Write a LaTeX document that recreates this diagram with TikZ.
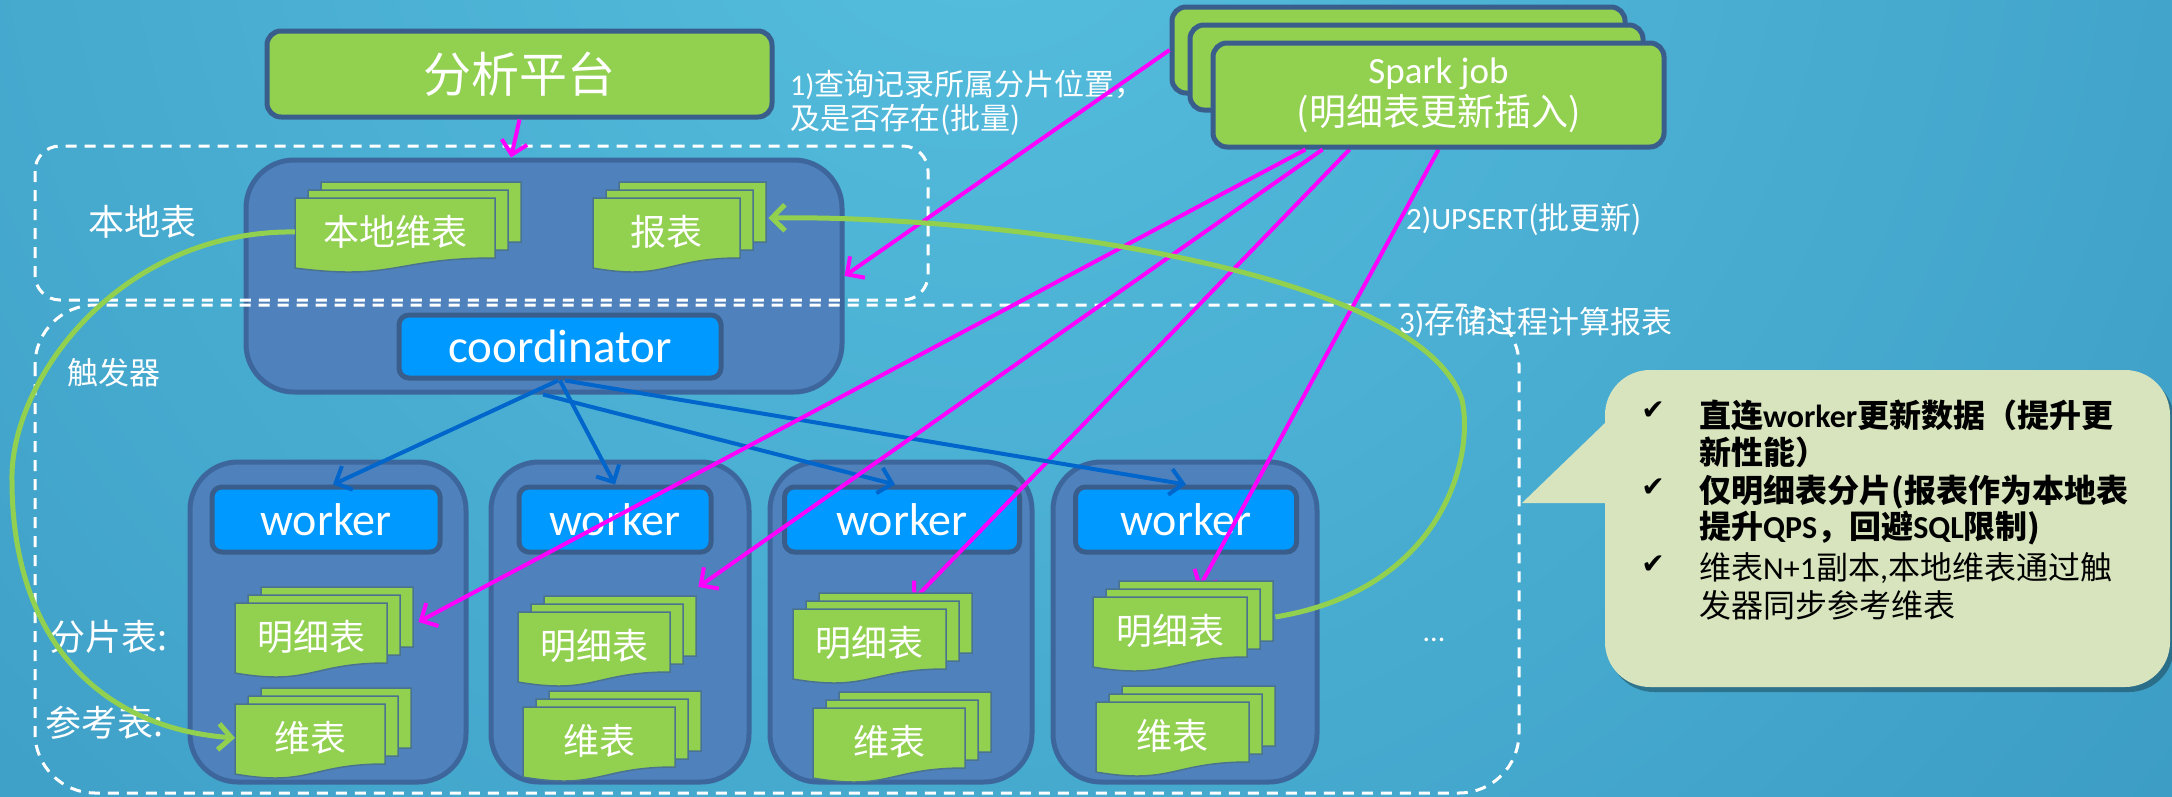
\documentclass[tikz,border=0pt]{standalone}
\usepackage{fontspec}
\setmainfont{Carlito}
\newfontfamily\cjk{Noto Sans CJK SC}
\newfontfamily\symfont{DejaVu Sans}
\usetikzlibrary{arrows.meta,calc}

\newcommand\zh[1]{{\cjk #1}}

\definecolor{leaf}{HTML}{92D050}
\definecolor{ink}{HTML}{3A5E8C}
\definecolor{slab}{HTML}{4F81BD}
\definecolor{slabline}{HTML}{3D679C}
\definecolor{chip}{HTML}{0099FF}
\definecolor{hotpink}{HTML}{FF00FF}
\definecolor{wirecol}{HTML}{0066CC}
\definecolor{notefill}{HTML}{D7E4BD}
\definecolor{sheetline}{HTML}{4A7390}
\definecolor{bgA}{HTML}{55BEDE}
\definecolor{bgB}{HTML}{3D9DC5}
\definecolor{bgC}{HTML}{2F88B0}
\definecolor{bgD}{HTML}{23749B}
\definecolor{bgE}{HTML}{1B628A}

\pgfdeclareradialshading{backdrop}{\pgfpoint{0bp}{0bp}}{%
  color(0bp)=(bgA); color(19bp)=(bgB); color(28bp)=(bgC);
  color(34bp)=(bgD); color(50bp)=(bgE)}

\pgfdeclarelayer{back}
\pgfdeclarelayer{under}
\pgfsetlayers{back,under,main}

\tikzset{
  greenbox/.style={draw=ink, line width=5pt, fill=leaf, rounded corners=14pt,
    text=white, inner sep=0pt},
  slabbox/.style={draw=slabline, line width=5pt, fill=slab, rounded corners=48pt,
    inner sep=0pt},
  chipbox/.style={draw=ink, line width=5pt, fill=chip, rounded corners=10pt,
    text=white, inner sep=0pt, font=\fontsize{46}{50}\selectfont},
  sheet/.style={fill=leaf, draw=sheetline, line width=1.5pt},
  doctext/.style={text=white, inner sep=0pt, font=\cjk\fontsize{36}{40}\selectfont},
  dashbox/.style={draw=white, line width=3pt, dash pattern=on 11pt off 8pt},
  whitetext/.style={text=white, inner sep=0pt, anchor=west},
  notetext/.style={text=black, inner sep=0pt, anchor=west},
  tickmark/.style={text=black, inner sep=0pt, font=\symfont\fontsize{28}{30}\selectfont},
  tipped/.style={-{Straight Barb[length=13pt,width=26pt]}},
  pinkline/.style={draw=hotpink, line width=4pt, tipped},
  blueline/.style={draw=wirecol, line width=4pt, tipped},
  greenline/.style={draw=leaf, line width=5pt, tipped},
}

% one sheet of a stacked document: x, y, width, height
\newcommand\docsheet[4]{%
  \filldraw[sheet] (#1,#2) -- (#1+#3,#2) -- (#1+#3,#2+0.8*#4)
    .. controls (#1+0.5*#3,#2+0.8*#4) and (#1+0.5*#3,#2+1.107*#4) .. (#1,#2+0.934*#4) -- cycle;}

% stack of three sheets: name, x, y, width, height, text
\newcommand\docstack[6]{%
  \foreach \k in {2,1,0}{\docsheet{#2+\k*13}{#3-\k*8}{#4}{#5}}
  \node[doctext, minimum width=#4, minimum height=0.9*#5, anchor=north west] (#1) at (#2,#3) {#6};}

\begin{document}
\begin{tikzpicture}[x=1pt,y=-1pt]
\useasboundingbox (0,0) rectangle (2172,796);

\begin{pgfonlayer}{back}
  \begin{scope}
    \clip (0,0) rectangle (2172,796);
    \shade[shading=backdrop] (980,-150) circle[radius=2000pt];
  \end{scope}
  % coordinator host and worker hosts
  \node[slabbox, minimum width=596, minimum height=232] (cc) at (544,276) {};
  \node[slabbox, minimum width=276, minimum height=320] (k1) at (328,622) {};
  \node[slabbox, minimum width=258, minimum height=320] (k2) at (620,622) {};
  \node[slabbox, minimum width=262, minimum height=320] (k3) at (901,622) {};
  \node[slabbox, minimum width=264, minimum height=320] (k4) at (1185,622) {};
  \node[chipbox, minimum width=322, minimum height=63, font=\fontsize{47}{50}\selectfont] (co) at (560,346.5) {coordinator};
  \node[chipbox, minimum width=228, minimum height=65] (w1) at (326,519.5) {worker};
  \node[chipbox, minimum width=192, minimum height=65] (w2) at (615,519.5) {worker};
  \node[chipbox, minimum width=235, minimum height=65] (w3) at (902,519.5) {worker};
  \node[chipbox, minimum width=221, minimum height=65] (w4) at (1186,519.5) {worker};
  % local-table and trigger regions
  \draw[dashbox, rounded corners=25pt] (35,146) rectangle (928,300);
  \draw[dashbox, rounded corners=60pt] (35,305) rectangle (1519,793);
\end{pgfonlayer}

% analysis platform and spark jobs
\node[greenbox, minimum width=505, minimum height=86, font=\cjk\fontsize{48}{56}\selectfont] (ap) at (519.5,74) {分析平台};
\node[greenbox, minimum width=453, minimum height=86] (sb) at (1398.5,50) {};
\node[greenbox, minimum width=453, minimum height=85] (sm) at (1416.5,67.5) {};
\node[greenbox, minimum width=451, minimum height=104, align=center, font=\fontsize{37}{42}\selectfont] (sf) at (1438.5,95) {Spark job\\\zh{(明细表更新插入)}};

% region labels
\node[whitetext, font=\cjk\fontsize{36}{40}\selectfont] (lb1) at (88,222) {本地表};
\node[whitetext, font=\cjk\fontsize{31}{36}\selectfont] (lb2) at (67,373) {触发器};
\node[whitetext, font=\cjk\fontsize{36}{40}\selectfont] (lb3) at (49,637) {分片表:};
\node[whitetext, font=\cjk\fontsize{36}{40}\selectfont] (lb4) at (45,723) {参考表:};
\node[text=white, inner sep=0pt, font=\fontsize{30}{34}\selectfont] (dots) at (1434,640) {...};

% tables
\docstack{ld}{295}{198}{200}{75}{本地维表}
\docstack{rb}{593}{198}{147}{75}{报表}
\docstack{m1}{235}{603}{152}{75}{明细表}
\docstack{d1}{235}{704}{150}{75}{维表}
\docstack{m2}{518}{612}{152}{75}{明细表}
\docstack{d2}{523}{707}{152}{75}{维表}
\docstack{m3}{793}{609}{153}{75}{明细表}
\docstack{d3}{813}{708}{152}{75}{维表}
\docstack{m4}{1093}{597}{154}{75}{明细表}
\docstack{d4}{1096}{702}{153}{75}{维表}

% step labels
\node[whitetext, align=left, font=\fontsize{30}{34}\selectfont] (q1) at (790,103) {1)\zh{查询记录所属分片位置，}\\\zh{及是否存在(批量)}};
\node[whitetext, font=\fontsize{31}{36}\selectfont] (q2) at (1406,219) {2)UPSERT\zh{(批更新)}};
\node[whitetext, font=\fontsize{31}{36}\selectfont] (q3) at (1399,323) {3)\zh{存储过程计算报表}};

% coordinator to workers
\draw[blueline] ($(co.south)+(-2,0)$) -- ($(w1.north)+(7,0)$);
\draw[blueline] (co.south) -- (w2.north);
\draw[blueline] ($(co.south)+(-17,14)$) -- ($(w3.north)+(-7,0)$);
\draw[blueline] ($(co.south)+(5,0)$) -- (w4.north);

% queries and batch upserts
\draw[pinkline] (ap.south) -- ($(cc.north)+(-33,0)$);
\draw[pinkline] (sb.west) -- (cc.east);
\draw[pinkline] ($(sf.south)+(-133,0)$) -- ($(m1.east)+(31,-15)$);
\draw[pinkline] ($(sf.south)+(-116,0)$) -- ($(m2.north east)+(28,-25)$);
\begin{pgfonlayer}{under}
  \draw[pinkline] ($(sf.south)+(-89,0)$) -- ($(m3.north east)+(-34,-8)$);
  \draw[pinkline] (sf.south) -- ($(m4.north east)+(-49,-8)$);
\end{pgfonlayer}

% trigger sync and stored procedure
\draw[greenline] (ld.west) .. controls (120,230) and (10,380) .. (12,480)
  .. controls (12,640) and (100,728) .. (d1.west);
\draw[greenline] ($(m4.east)+(28,-14)$) .. controls (1440,590) and (1475,460) .. (1462,400)
  .. controls (1420,270) and (1000,215) .. ($(rb.east)+(28,-14)$);

% remarks callout
\fill[black, opacity=0.3, rounded corners=45pt] (1609,375) rectangle (2174,692);
\fill[notefill, rounded corners=45pt] (1605,370) rectangle (2170,687);
\fill[notefill] (1522,503) -- (1605,423) -- (1612,423) -- (1612,503) -- cycle;
\node[tickmark] (ck1) at (1653,411) {✔};
\node[tickmark] (ck2) at (1653,488) {✔};
\node[tickmark] (ck3) at (1653,565) {✔};
\node[notetext, font=\bfseries\fontsize{32}{36}\selectfont] (n1) at (1699,415) {\zh{直连}worker\zh{更新数据（提升更}};
\node[notetext, font=\bfseries\fontsize{32}{36}\selectfont] (n2) at (1699,452) {\zh{新性能）}};
\node[notetext, font=\bfseries\fontsize{32}{36}\selectfont] (n3) at (1699,492) {\zh{仅明细表分片(报表作为本地表}};
\node[notetext, font=\bfseries\fontsize{32}{36}\selectfont] (n4) at (1699,528) {\zh{提升}QPS\zh{，回避}SQL\zh{限制)}};
\node[notetext, font=\fontsize{32}{36}\selectfont] (n5) at (1699,568) {\zh{维表}N+1\zh{副本},\zh{本地维表通过触}};
\node[notetext, font=\fontsize{32}{36}\selectfont] (n6) at (1699,605) {\zh{发器同步参考维表}};
\end{tikzpicture}
\end{document}
